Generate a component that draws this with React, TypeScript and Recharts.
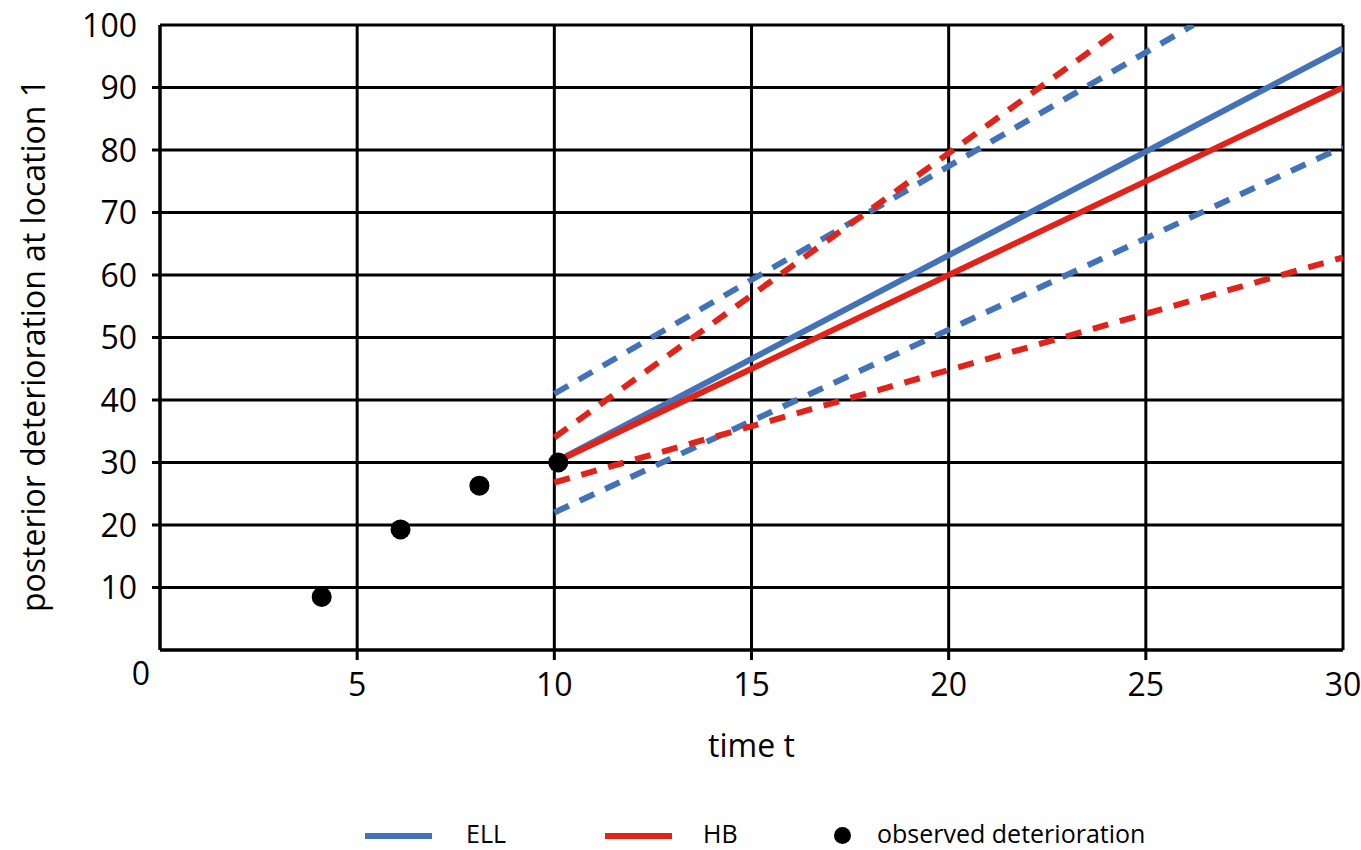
import React from 'react';
import {
  ComposedChart,
  Line,
  Scatter,
  XAxis,
  YAxis,
  CartesianGrid,
  Legend,
} from 'recharts';

const FONT = '"Open Sans", sans-serif';
const BLUE = '#4272B8';
const RED = '#E2231A';

const xTicks = [5, 10, 15, 20, 25, 30];
const yTicks = [0, 10, 20, 30, 40, 50, 60, 70, 80, 90, 100];

const observed = [
  { x: 4.1, y: 8.5 },
  { x: 6.1, y: 19.3 },
  { x: 8.1, y: 26.3 },
  { x: 10.1, y: 30.0 },
];

const ellMean = [
  { x: 10, y: 30 },
  { x: 30, y: 96.3 },
];
const hbMean = [
  { x: 10, y: 30 },
  { x: 30, y: 90 },
];
const ellUpper = [
  { x: 10, y: 41 },
  { x: 26.2, y: 100 },
];
const ellLower = [
  { x: 10, y: 22 },
  { x: 30, y: 80.5 },
];
const hbUpper = [
  { x: 10, y: 34 },
  { x: 24.4, y: 99.5 },
];
const hbLower = [
  { x: 10, y: 26.8 },
  { x: 30, y: 62.8 },
];

const YTick = (props: any) => {
  const { x, y, payload } = props;
  const v = payload.value;
  if (v === 0) {
    return (
      <text x={x + 4} y={y + 23} dy="0.36em" textAnchor="middle" fontFamily={FONT} fontSize={32} fill="#000">
        0
      </text>
    );
  }
  return (
    <g>
      {v !== 100 && <line x1={x + 15} x2={x + 23} y1={y} y2={y} stroke="#000" strokeWidth={3} />}
      <text x={x} y={y} dy="0.36em" textAnchor="end" fontFamily={FONT} fontSize={32} fill="#000">
        {v}
      </text>
    </g>
  );
};

const XTick = (props: any) => {
  const { x, y, payload } = props;
  const v = payload.value;
  return (
    <g>
      {v !== 30 && <line x1={x} x2={x} y1={y - 23} y2={y - 13} stroke="#000" strokeWidth={3} />}
      <text x={x} y={y} dy="0.71em" textAnchor="middle" fontFamily={FONT} fontSize={32} fill="#000">
        {v}
      </text>
    </g>
  );
};

const LegendContent = () => (
  <div style={{ position: 'relative', width: 1361, height: 34, fontFamily: FONT, fontSize: 25, color: '#000' }}>
    <div style={{ position: 'absolute', left: 365, top: 17, width: 67, height: 6, background: BLUE }} />
    <div style={{ position: 'absolute', left: 466, top: 0, lineHeight: '34px', whiteSpace: 'nowrap' }}>ELL</div>
    <div style={{ position: 'absolute', left: 605, top: 17, width: 67, height: 6, background: RED }} />
    <div style={{ position: 'absolute', left: 703, top: 0, lineHeight: '34px', whiteSpace: 'nowrap' }}>HB</div>
    <div style={{ position: 'absolute', left: 834, top: 11, width: 17, height: 17, borderRadius: '50%', background: '#000' }} />
    <div style={{ position: 'absolute', left: 877, top: 0, lineHeight: '34px', whiteSpace: 'nowrap' }}>observed deterioration</div>
  </div>
);

export default function App() {
  return (
    <div style={{ position: 'absolute', left: 0, top: 0, width: 1361, height: 850, background: '#fff' }}>
      <ComposedChart width={1361} height={850} margin={{ top: 25, right: 18, left: 0, bottom: 0 }}>
        <CartesianGrid stroke="#000" strokeWidth={3} />
        <XAxis
          type="number"
          dataKey="x"
          domain={[0, 30]}
          ticks={xTicks}
          allowDataOverflow
          height={166}
          tickSize={10}
          tickMargin={13}
          tickLine={false}
          axisLine={{ stroke: '#000', strokeWidth: 3 }}
          tick={<XTick />}
          label={{
            content: (p: any) => {
              const vb = p.viewBox || { x: 160, width: 1183 };
              return (
                <text x={vb.x + vb.width / 2} y={757} textAnchor="middle" fontFamily={FONT} fontSize={32} fill="#000">
                  time t
                </text>
              );
            },
          }}
        />
        <YAxis
          type="number"
          dataKey="y"
          domain={[0, 100]}
          ticks={yTicks}
          allowDataOverflow
          width={160}
          tickSize={8}
          tickMargin={15}
          tickLine={false}
          axisLine={{ stroke: '#000', strokeWidth: 3 }}
          tick={<YTick />}
          label={{
            content: (p: any) => {
              const vb = p.viewBox || { y: 25, height: 625 };
              const cy = vb.y + vb.height / 2 + 8;
              return (
                <text
                  x={33}
                  y={cy}
                  dy="0.36em"
                  transform={`rotate(-90, 33, ${cy})`}
                  textAnchor="middle"
                  fontFamily={FONT}
                  fontSize={32}
                  fill="#000"
                >
                  posterior deterioration at location 1
                </text>
              );
            },
          }}
        />
        <Legend
          verticalAlign="bottom"
          layout="horizontal"
          content={<LegendContent />}
          wrapperStyle={{ left: 0, bottom: 0, width: 1361, height: 34 }}
        />
        <Line data={ellUpper} dataKey="y" type="linear" stroke={BLUE} strokeWidth={6} strokeDasharray="16 12" dot={false} activeDot={false} isAnimationActive={false} />
        <Line data={ellLower} dataKey="y" type="linear" stroke={BLUE} strokeWidth={6} strokeDasharray="16 12" dot={false} activeDot={false} isAnimationActive={false} />
        <Line data={hbUpper} dataKey="y" type="linear" stroke={RED} strokeWidth={6} strokeDasharray="16 12" dot={false} activeDot={false} isAnimationActive={false} />
        <Line data={hbLower} dataKey="y" type="linear" stroke={RED} strokeWidth={6} strokeDasharray="16 12" dot={false} activeDot={false} isAnimationActive={false} />
        <Line data={ellMean} dataKey="y" type="linear" stroke={BLUE} strokeWidth={6} dot={false} activeDot={false} isAnimationActive={false} />
        <Line data={hbMean} dataKey="y" type="linear" stroke={RED} strokeWidth={6} dot={false} activeDot={false} isAnimationActive={false} />
        <Scatter
          data={observed}
          dataKey="y"
          fill="#000"
          isAnimationActive={false}
          shape={(p: any) => <circle cx={p.cx} cy={p.cy} r={10} fill="#000" />}
        />
      </ComposedChart>
    </div>
  );
}
